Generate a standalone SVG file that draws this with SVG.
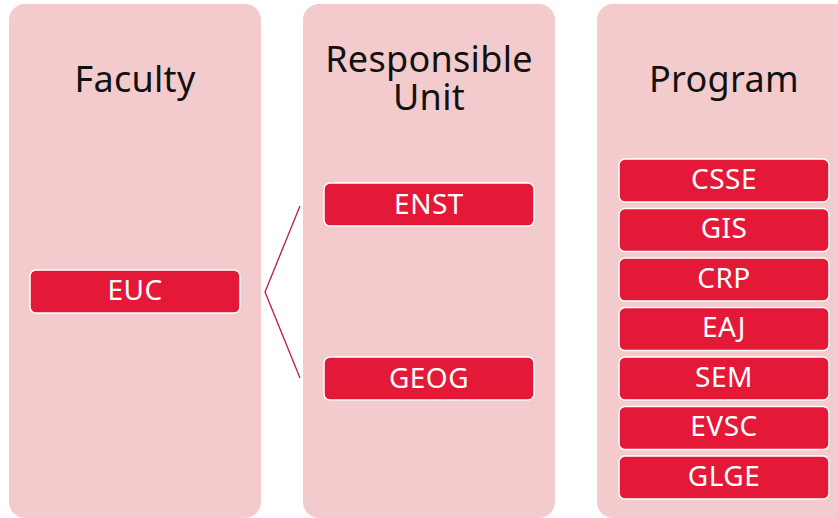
<svg xmlns="http://www.w3.org/2000/svg" width="838" height="518" viewBox="0 0 838 518">
<defs>
<style>
.panel{fill:#f3cbcd}
.box{fill:#e31937;stroke:#ffffff;stroke-width:1.5}
.title{font-family:"Noto Sans","Open Sans",sans-serif;font-size:36px;fill:#111;text-anchor:middle;letter-spacing:0.3px}
.lbl{font-family:"Noto Sans","Open Sans",sans-serif;font-size:28px;fill:#fff;text-anchor:middle;letter-spacing:0.5px}
.conn{fill:none;stroke:#b81f35;stroke-width:1.3}
</style>
</defs>
<rect width="838" height="518" fill="#ffffff"/>
<g id="col-faculty">
<rect class="panel" x="9" y="4" width="252" height="514" rx="16"/>
<text class="title" x="135" y="92">Faculty</text>
</g>
<g id="col-unit">
<rect class="panel" x="303" y="4" width="252" height="514" rx="16"/>
<text class="title" x="429" y="72">Responsible</text>
<text class="title" x="429" y="110">Unit</text>
</g>
<g id="col-program">
<rect class="panel" x="597" y="4" width="260" height="514" rx="16"/>
<text class="title" x="724" y="92">Program</text>
</g>
<g id="connectors">
<polyline class="conn" points="300,206 265,292 300,378"/>
</g>
<g id="EUC"><rect class="box" x="30" y="270" width="210" height="43" rx="6"/><text class="lbl" x="135" y="299.5">EUC</text></g>
<g id="ENST"><rect class="box" x="324" y="183" width="210" height="43" rx="6"/><text class="lbl" x="429" y="213.5">ENST</text></g>
<g id="GEOG"><rect class="box" x="324" y="357" width="210" height="43" rx="6"/><text class="lbl" x="429" y="387.5">GEOG</text></g>
<g id="CSSE"><rect class="box" x="619" y="159" width="210" height="43" rx="6"/><text class="lbl" x="724" y="188.5">CSSE</text></g>
<g id="GIS"><rect class="box" x="619" y="208.5" width="210" height="43" rx="6"/><text class="lbl" x="724" y="238">GIS</text></g>
<g id="CRP"><rect class="box" x="619" y="258" width="210" height="43" rx="6"/><text class="lbl" x="724" y="287.5">CRP</text></g>
<g id="EAJ"><rect class="box" x="619" y="307.5" width="210" height="43" rx="6"/><text class="lbl" x="724" y="337">EAJ</text></g>
<g id="SEM"><rect class="box" x="619" y="357" width="210" height="43" rx="6"/><text class="lbl" x="724" y="386.5">SEM</text></g>
<g id="EVSC"><rect class="box" x="619" y="406.5" width="210" height="43" rx="6"/><text class="lbl" x="724" y="436">EVSC</text></g>
<g id="GLGE"><rect class="box" x="619" y="456" width="210" height="43" rx="6"/><text class="lbl" x="724" y="485.5">GLGE</text></g>
</svg>
